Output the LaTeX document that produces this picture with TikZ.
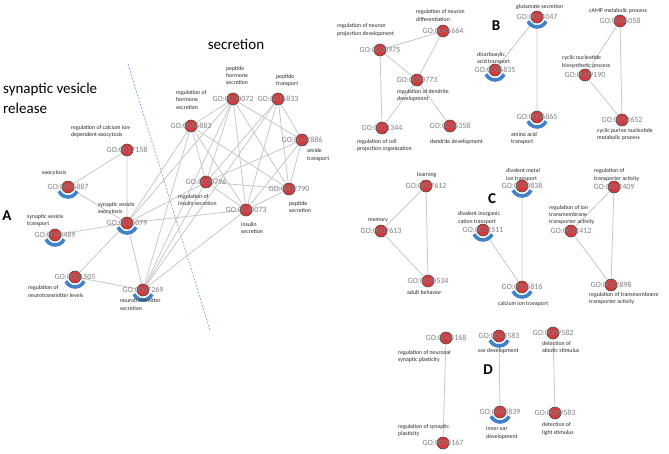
\documentclass[tikz,border=0pt]{standalone}
\usepackage{fontspec}
\setmainfont{Carlito}
\definecolor{termred}{RGB}{214,56,60}
\definecolor{arcblue}{RGB}{66,130,200}
\definecolor{linkgray}{RGB}{200,200,200}
\newcommand\goarc[1]{\draw[arcb] ([shift={(-155:10pt)}]#1.center) arc[start angle=-155,end angle=-25,radius=10pt];}

\begin{document}
\begin{tikzpicture}[x=1pt,y=-1pt]
\tikzset{term/.style={circle,draw=black!70,fill=termred,line width=0.6pt,inner sep=0pt,minimum size=12pt},
  goid/.style={text=black!50,font=\fontsize{8}{8}\selectfont,inner sep=0pt},
  txt/.style={text=black!85,font=\fontsize{5.8}{7.3}\selectfont,align=left,inner sep=0pt,anchor=west},
  big/.style={font=\fontsize{15}{20}\selectfont,align=left,inner sep=0pt},
  letter/.style={font=\bfseries\fontsize{15}{15}\selectfont,inner sep=0pt},
  link/.style={draw=linkgray,line width=0.8pt},
  arcb/.style={draw=arcblue,line width=3.6pt}}
\fill[white] (0,0) rectangle (669,453);
\useasboundingbox (0,0) rectangle (669,453);

\node[big,anchor=west] (svr) at (3,98) {synaptic vesicle\\release};
\node[big] (sec) at (236,44) {secretion};
\node[letter] (A) at (7,216) {A};
\node[letter] (B) at (496,26) {B};
\node[letter] (C) at (492,199) {C};
\node[letter] (D) at (488,370) {D};
\coordinate (cut1) at (128,64);
\coordinate (cut2) at (210,330);
\draw[arcblue!70,dashed,line width=0.7pt,dash pattern=on 2pt off 1.5pt] (cut1) -- (cut2);

\node[term] (g17158) at (127,150) {};
\node[term] (g6887) at (68,187) {};
\node[term] (g16079) at (127,223) {};
\node[term] (g48489) at (55,235) {};
\node[term] (g1505) at (75,277) {};
\node[term] (g7269) at (143,290) {};
\node[term] (g46883) at (191,126) {};
\node[term] (g30072) at (233,99) {};
\node[term] (g15833) at (278,99) {};
\node[term] (g42886) at (302,140) {};
\node[term] (g50796) at (206,182) {};
\node[term] (g2790) at (289,189) {};
\node[term] (g30073) at (246,210) {};
\draw[link] (g17158) -- (g6887) -- (g16079) -- (g17158);
\draw[link] (g48489) -- (g16079) -- (g1505) -- (g7269) -- (g16079);
\draw[link] (g16079) -- (g30073);
\draw[link] (g16079) -- (g50796);
\draw[link] (g16079) -- (g46883);
\draw[link] (g16079) -- (g30072);
\draw[link] (g7269) -- (g46883);
\draw[link] (g7269) -- (g30072);
\draw[link] (g7269) -- (g15833);
\draw[link] (g7269) -- (g50796);
\draw[link] (g7269) -- (g30073);
\draw[link] (g46883) -- (g30072) -- (g42886) -- (g15833);
\draw[link] (g46883) -- (g50796) -- (g30072) -- (g30073) -- (g46883);
\draw[link] (g46883) -- (g2790) -- (g30072);
\draw[link] (g15833) -- (g50796) -- (g42886) -- (g30073) -- (g15833) -- (g2790) -- (g42886);
\draw[link] (g50796) -- (g2790) -- (g30073) -- (g50796);

\node[term] (g10975) at (380,50) {};
\node[term] (g45664) at (443,31) {};
\node[term] (g50773) at (417,80) {};
\node[term] (g31344) at (382,128) {};
\node[term] (g16358) at (450,126) {};
\draw[link] (g10975) -- (g45664) -- (g50773) -- (g10975) -- (g31344) -- (g50773) -- (g16358);

\node[term] (g14047) at (537,17) {};
\node[term] (g6835) at (495,70) {};
\node[term] (g6865) at (537,117) {};
\draw[link] (g6835) -- (g14047) -- (g6865);

\node[term] (g46058) at (620,21) {};
\node[term] (g9190) at (585,75) {};
\node[term] (g52652) at (622,120) {};
\draw[link] (g46058) -- (g9190) -- (g52652) -- (g46058);

\node[term] (g7612) at (426,186) {};
\node[term] (g7613) at (381,231) {};
\node[term] (g30534) at (428,281) {};
\draw[link] (g7612) -- (g7613) -- (g30534) -- (g7612);

\node[term] (g70838) at (522,186) {};
\node[term] (g72511) at (483,230) {};
\node[term] (g6816) at (522,287) {};
\draw[link] (g70838) -- (g6816) -- (g72511);

\node[term] (g32409) at (614,187) {};
\node[term] (g32412) at (571,231) {};
\node[term] (g22898) at (611,285) {};
\draw[link] (g32409) -- (g32412) -- (g22898) -- (g32409);

\node[term] (g48168) at (446,338) {};
\node[term] (g48167) at (443,443) {};
\node[term] (g43583) at (499,336) {};
\node[term] (g48839) at (500,412) {};
\node[term] (g9582) at (553,333) {};
\node[term] (g9583) at (555,413) {};
\draw[link] (g48168) -- (g48167);
\draw[link] (g43583) -- (g48839);
\draw[link] (g9582) -- (g9583);

\goarc{g6887}
\goarc{g16079}
\goarc{g48489}
\goarc{g1505}
\goarc{g7269}
\goarc{g14047}
\goarc{g6835}
\goarc{g6865}
\goarc{g70838}
\goarc{g72511}
\goarc{g6816}
\goarc{g43583}
\goarc{g48839}

\node[goid] (i17158) at (g17158) {GO:0017158};
\node[goid] (i6887) at (g6887) {GO:0006887};
\node[goid] (i16079) at (g16079) {GO:0016079};
\node[goid] (i48489) at (g48489) {GO:0048489};
\node[goid] (i1505) at (g1505) {GO:0001505};
\node[goid] (i7269) at (g7269) {GO:0007269};
\node[goid] (i46883) at (g46883) {GO:0046883};
\node[goid] (i30072) at (g30072) {GO:0030072};
\node[goid] (i15833) at (g15833) {GO:0015833};
\node[goid] (i42886) at (g42886) {GO:0042886};
\node[goid] (i50796) at (g50796) {GO:0050796};
\node[goid] (i2790) at (g2790) {GO:0002790};
\node[goid] (i30073) at (g30073) {GO:0030073};
\node[goid] (i10975) at (g10975) {GO:0010975};
\node[goid] (i45664) at (g45664) {GO:0045664};
\node[goid] (i50773) at (g50773) {GO:0050773};
\node[goid] (i31344) at (g31344) {GO:0031344};
\node[goid] (i16358) at (g16358) {GO:0016358};
\node[goid] (i14047) at (g14047) {GO:0014047};
\node[goid] (i6835) at (g6835) {GO:0006835};
\node[goid] (i6865) at (g6865) {GO:0006865};
\node[goid] (i46058) at (g46058) {GO:0046058};
\node[goid] (i9190) at (g9190) {GO:0009190};
\node[goid] (i52652) at (g52652) {GO:0052652};
\node[goid] (i7612) at (g7612) {GO:0007612};
\node[goid] (i7613) at (g7613) {GO:0007613};
\node[goid] (i30534) at (g30534) {GO:0030534};
\node[goid] (i70838) at (g70838) {GO:0070838};
\node[goid] (i72511) at (g72511) {GO:0072511};
\node[goid] (i6816) at (g6816) {GO:0006816};
\node[goid] (i32409) at (g32409) {GO:0032409};
\node[goid] (i32412) at (g32412) {GO:0032412};
\node[goid] (i22898) at (g22898) {GO:0022898};
\node[goid] (i48168) at (g48168) {GO:0048168};
\node[goid] (i48167) at (g48167) {GO:0048167};
\node[goid] (i43583) at (g43583) {GO:0043583};
\node[goid] (i48839) at (g48839) {GO:0048839};
\node[goid] (i9582) at (g9582) {GO:0009582};
\node[goid] (i9583) at (g9583) {GO:0009583};

\node[txt] (t17158) at (71,131.5) {regulation of calcium ion-\\dependent exocytosis};
\node[txt] (t6887) at (42,173) {exocytosis};
\node[txt] (t16079) at (98,208.5) {synaptic vesicle\\exocytosis};
\node[txt] (t48489) at (27,220.5) {synaptic vesicle\\transport};
\node[txt] (t1505) at (28,291.5) {regulation of\\neurotransmitter levels};
\node[txt] (t7269) at (120,304.5) {neurotransmitter\\secretion};
\node[txt] (t46883) at (176,100) {regulation of\\hormone\\secretion};
\node[txt] (t30072) at (226,75.5) {peptide\\hormone\\secretion};
\node[txt] (t15833) at (276,80.5) {peptide\\transport};
\node[txt] (t42886) at (307,155) {amide\\transport};
\node[txt] (t50796) at (178,200) {regulation of\\insulin secretion};
\node[txt] (t2790) at (289,207) {peptide\\secretion};
\node[txt] (t30073) at (241,228) {insulin\\secretion};
\node[txt] (t10975) at (337,30) {regulation of neuron\\projection development};
\node[txt] (t45664) at (416,15.5) {regulation of neuron\\differentiation};
\node[txt] (t50773) at (397,95.5) {regulation of dendrite\\development};
\node[txt] (t31344) at (357,145.5) {regulation of cell\\projection organization};
\node[txt] (t16358) at (430,142) {dendrite development};
\node[txt] (t14047) at (516,7) {glutamate secretion};
\node[txt] (t6835) at (477,58.5) {dicarboxylic\\acid transport};
\node[txt] (t6865) at (511,138.5) {amino acid\\transport};
\node[txt] (t46058) at (589,11) {cAMP metabolic process};
\node[txt] (t9190) at (562,62) {cyclic nucleotide\\biosynthetic process};
\node[txt] (t52652) at (597,134.5) {cyclic purine nucleotide\\metabolic process};
\node[txt] (t7612) at (417,175) {learning};
\node[txt] (t7613) at (368,221) {memory};
\node[txt] (t30534) at (407,293) {adult behavior};
\node[txt] (t70838) at (506,175) {divalent metal\\ion transport};
\node[txt] (t72511) at (458,218) {divalent inorganic\\cation transport};
\node[txt] (t6816) at (498,304) {calcium ion transport};
\node[txt] (t32409) at (594,175) {regulation of\\transporter activity};
\node[txt] (t32412) at (549,215) {regulation of ion\\transmembrane\\transporter activity};
\node[txt] (t22898) at (589,298.5) {regulation of transmembrane\\transporter activity};
\node[txt] (t48168) at (398,356.5) {regulation of neuronal\\synaptic plasticity};
\node[txt] (t48167) at (398,430.5) {regulation of synaptic\\plasticity};
\node[txt] (t43583) at (478,351) {ear development};
\node[txt] (t48839) at (486,433) {inner ear\\development};
\node[txt] (t9582) at (542,347) {detection of\\abiotic stimulus};
\node[txt] (t9583) at (542,429) {detection of\\light stimulus};
\end{tikzpicture}
\end{document}
